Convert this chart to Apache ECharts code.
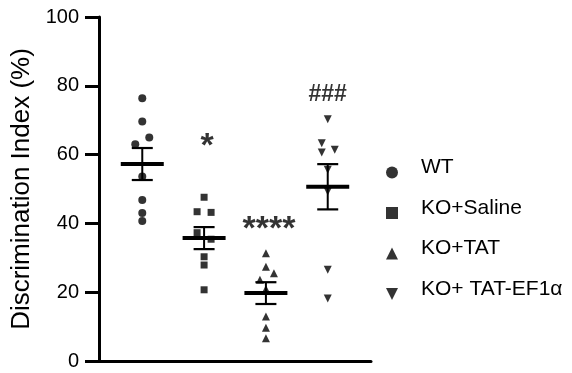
<!DOCTYPE html>
<html>
<head>
<meta charset="utf-8">
<script src="https://cdn.jsdelivr.net/npm/echarts@6/dist/echarts.min.js"></script>
<style>
  html, body { margin: 0; padding: 0; background: #fff; }
  #chart { width: 572px; height: 373px; }
</style>
</head>
<body>
<div id="chart"></div>
<script>
// Group names (legend order)
const groups = ['WT', 'KO+Saline', 'KO+TAT', 'KO+ TAT-EF1\u03b1'];

// Individual discrimination index values (%) per animal
const wtValues     = [76.4, 69.6, 65.0, 63.0, 53.6, 46.8, 43.0, 40.7];
const salineValues = [47.6, 43.4, 43.2, 37.3, 35.4, 30.3, 27.9, 20.7];
const tatValues    = [31.3, 27.4, 25.5, 23.6, 20.9, 12.9, 9.7, 6.6];
const ef1aValues   = [70.3, 63.3, 61.4, 60.6, 55.6, 49.3, 26.5, 18.2];

// Horizontal spread of overlapping points, in pixels
const wtJitter     = [0, 0, 7, -7, 0, 0, 0, 0];
const salineJitter = [0, -7, 7, -7, 7, 0, 0, 0];
const tatJitter    = [0, 0, 8, -6, 0, 0, 0, 0];
const ef1aJitter   = [0, -6, 7, -6, 0, 0, 0, 0];

// Significance marks and the height (in %) at which each is written
const sigText   = ['', '*', '****', '###'];
const sigHeight = [null, 64, 40, 78];

// y-axis ticks
const yTicks = [0, 20, 40, 60, 80, 100];

const allValues = [wtValues, salineValues, tatValues, ef1aValues];
const allJitter = [wtJitter, salineJitter, tatJitter, ef1aJitter];
const symbols = ['circle', 'rect', 'triangle', 'path://M0,0 L10,0 L5,10 Z'];
const symbolSizes = [8, 7, 8, 8];

function mean(a) { return a.reduce((s, v) => s + v, 0) / a.length; }
function sem(a) {
  const m = mean(a);
  const sd = Math.sqrt(a.reduce((s, v) => s + (v - m) * (v - m), 0) / (a.length - 1));
  return sd / Math.sqrt(a.length);
}

const FONT = 'Liberation Sans, Arial, sans-serif';

const pointSeries = groups.map((name, gi) => ({
  name: name,
  type: 'scatter',
  symbol: symbols[gi],
  symbolSize: symbolSizes[gi],
  itemStyle: { color: '#000' },
  z: 3,
  data: allValues[gi].map((v, k) => ({
    value: [gi + 1, v],
    symbolOffset: [allJitter[gi][k], 0]
  }))
}));

// mean ± SEM per group
const summaryData = allValues.map((vals, gi) => {
  const m = mean(vals), e = sem(vals);
  return [gi + 1, m, m - e, m + e];
});

const summarySeries = {
  type: 'custom',
  silent: true,
  z: 4,
  data: summaryData,
  renderItem: function (params, api) {
    const x = api.value(0);
    const pm = api.coord([x, api.value(1)]);
    const pl = api.coord([x, api.value(2)]);
    const ph = api.coord([x, api.value(3)]);
    const meanHalf = 21.5, capHalf = 10.5;
    return {
      type: 'group',
      children: [
        { type: 'line', shape: { x1: pm[0], y1: pl[1], x2: pm[0], y2: ph[1] },
          style: { stroke: '#000', lineWidth: 2 } },
        { type: 'line', shape: { x1: pm[0] - capHalf, y1: pl[1], x2: pm[0] + capHalf, y2: pl[1] },
          style: { stroke: '#000', lineWidth: 2.2 } },
        { type: 'line', shape: { x1: pm[0] - capHalf, y1: ph[1], x2: pm[0] + capHalf, y2: ph[1] },
          style: { stroke: '#000', lineWidth: 2.2 } },
        { type: 'line', shape: { x1: pm[0] - meanHalf, y1: pm[1], x2: pm[0] + meanHalf, y2: pm[1] },
          style: { stroke: '#000', lineWidth: 4 } }
      ]
    };
  }
};

const sigSeries = {
  type: 'scatter',
  silent: true,
  symbolSize: 0,
  z: 5,
  data: sigText.map((t, gi) => ({ value: [gi + 1, sigHeight[gi]], name: t }))
    .filter(d => d.value[1] != null),
  label: {
    show: true,
    position: 'inside',
    color: '#000',
    fontFamily: FONT,
    fontWeight: 'bold',
    formatter: p => p.name
  }
};
// per-mark font sizes: hash marks are smaller than asterisks
sigSeries.data.forEach(d => {
  const isHash = d.name.indexOf('#') >= 0;
  d.label = { fontSize: isHash ? 23 : 34, offset: [isHash ? 0 : 3, isHash ? 2 : 6] };
});

const option = {
  animation: false,
  backgroundColor: '#fff',
  grid: { left: 99, right: 201, top: 17, bottom: 12, containLabel: false },
  xAxis: {
    type: 'value',
    min: 0.3,
    max: 4.7,
    axisLine: { show: true, lineStyle: { color: '#000', width: 3 } },
    axisTick: { show: false },
    axisLabel: { show: false },
    splitLine: { show: false }
  },
  yAxis: {
    type: 'value',
    min: 0,
    max: 100,
    interval: 20,
    name: 'Discrimination Index (%)',
    nameLocation: 'middle',
    nameGap: 64,
    nameTextStyle: { fontFamily: FONT, fontSize: 26, color: '#000' },
    axisLine: { show: true, lineStyle: { color: '#000', width: 3 } },
    axisTick: { show: true, length: 14, lineStyle: { color: '#000', width: 3 } },
    axisLabel: {
      margin: 20,
      fontFamily: FONT,
      fontSize: 20,
      color: '#000',
      formatter: v => (yTicks.indexOf(v) >= 0 ? String(v) : '')
    },
    splitLine: { show: false }
  },
  legend: {
    data: groups.map((g, gi) => ({ name: g, icon: symbols[gi] })),
    orient: 'vertical',
    left: 381,
    top: 152,
    itemWidth: 12,
    itemHeight: 12,
    itemGap: 19,
    selectedMode: false,
    itemStyle: { color: '#000' },
    formatter: name => '{t|' + name + '}',
    textStyle: {
      fontFamily: FONT, fontSize: 21, color: '#000',
      rich: { t: { fontFamily: FONT, fontSize: 21, color: '#000', padding: [0, 0, 10, 18] } }
    }
  },
  series: [...pointSeries, summarySeries, sigSeries]
};

const chart = echarts.init(document.getElementById('chart'), null, { renderer: 'canvas' });
chart.setOption(option);
</script>
</body>
</html>
